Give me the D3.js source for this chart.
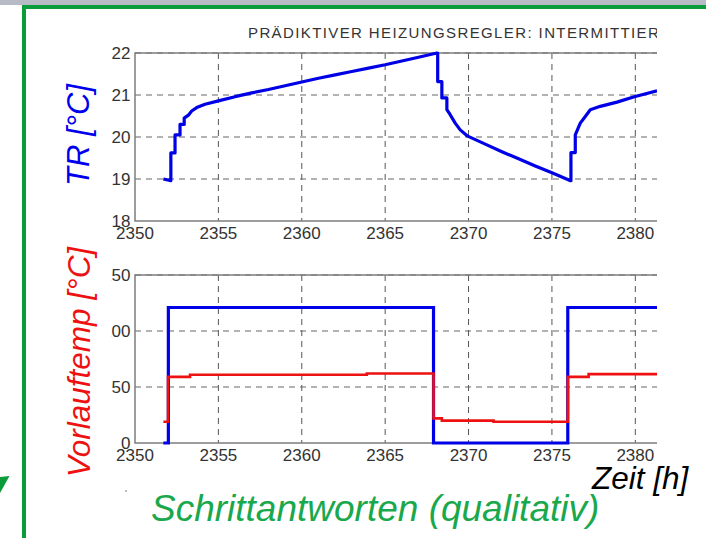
<!DOCTYPE html>
<html>
<head>
<meta charset="utf-8">
<script src="https://cdn.jsdelivr.net/npm/d3@7"></script>
<style>
  body { margin: 0; background: #fff; }
  svg { display: block; }
</style>
</head>
<body>
<svg id="chart"></svg>
<script>
// Raumtemperatur TR (oben), gelesen aus dem Bild
const trTime = [2351.7, 2352.15, 2352.15, 2352.4, 2352.4, 2352.7, 2352.7, 2352.95, 2352.95, 2353.2, 2353.4,
  2353.7, 2354.2, 2355, 2356, 2357, 2358, 2359, 2360, 2361, 2362, 2363, 2364, 2365, 2366, 2367, 2368.1,
  2368.15, 2368.15, 2368.4, 2368.4, 2368.7, 2368.7, 2368.9, 2369.2, 2369.5, 2369.95, 2371, 2372, 2373, 2374,
  2375, 2376.12, 2376.14, 2376.14, 2376.4, 2376.4, 2376.7, 2377.0, 2377.3, 2377.9, 2378.9, 2379.94, 2381.3];
const trValue = [19.0, 18.96, 19.62, 19.62, 20.05, 20.05, 20.3, 20.3, 20.45, 20.52, 20.62,
  20.7, 20.78, 20.86, 20.96, 21.05, 21.13, 21.22, 21.31, 21.4, 21.48, 21.56, 21.64, 21.72, 21.81, 21.9, 22.0,
  22.0, 21.32, 21.32, 20.93, 20.93, 20.65, 20.53, 20.33, 20.17, 20.02, 19.83, 19.65, 19.48, 19.31,
  19.15, 18.96, 18.96, 19.63, 19.63, 20.05, 20.33, 20.49, 20.65, 20.73, 20.83, 20.96, 21.1];

// Vorlauftemperatur (unten), Stufen
const setTime = [2351.7, 2352.0, 2367.9, 2375.95, 2381.3];
const setValue = [0, 121, 0, 121, 121];
const flowTime = [2351.7, 2351.98, 2353.3, 2363.9, 2367.9, 2368.4, 2371.5, 2375.95, 2377.2, 2381.3];
const flowValue = [19, 59, 61, 62, 22, 20, 19, 59, 61.5, 61.5];

const xTicks = [2350, 2355, 2360, 2365, 2370, 2375, 2380];
const trTicks = [18, 19, 20, 21, 22];
const flowTicks = [0, 50, 100, 150];

const title = "PRÄDIKTIVER HEIZUNGSREGLER: INTERMITTIERENDER BETRIEB";
const titleSeen = "PRÄDIKTIVER HEIZUNGSREGLER: INTERMITTIE";

const width = 706, height = 538;
const font = "'Liberation Sans', Arial, sans-serif";
const green = "#0a9b3b";

const svg = d3.select("#chart").attr("width", width).attr("height", height);

// grauer Streifen + grüner Rahmen
svg.append("rect").attr("x", 0).attr("y", 0).attr("width", width).attr("height", 5).attr("fill", "#b7bbc6");
svg.append("rect").attr("x", 22).attr("y", 5).attr("width", width - 22).attr("height", 4).attr("fill", green);
svg.append("rect").attr("x", 22).attr("y", 5).attr("width", 4).attr("height", height - 5).attr("fill", green);
svg.append("path").attr("d", "M0,477L9.5,476L0,493Z").attr("fill", green);

const x = d3.scaleLinear().domain([2350, 2381.3]).range([135, 657]);
const yTop = d3.scaleLinear().domain([18, 22]).range([221, 53]);
const yBot = d3.scaleLinear().domain([0, 150]).range([443, 275]);

svg.append("defs").append("clipPath").attr("id", "plotclip")
  .append("rect").attr("x", 130).attr("y", 0).attr("width", 527).attr("height", height);
svg.select("defs").append("clipPath").attr("id", "labclip")
  .append("rect").attr("x", 111.2).attr("y", 260).attr("width", 30).attr("height", 200);

function panel(y, yTicks, labelClip) {
  const g = svg.append("g");
  const [y0, y1] = y.range();
  // Gitter
  g.selectAll(".gx").data(xTicks.slice(1)).enter().append("line")
    .attr("x1", d => x(d)).attr("x2", d => x(d)).attr("y1", y1).attr("y2", y0)
    .attr("stroke", "#555").attr("stroke-width", 1).attr("stroke-dasharray", "6,5");
  g.selectAll(".gy").data(yTicks.slice(1)).enter().append("line")
    .attr("x1", x.range()[0]).attr("x2", x.range()[1]).attr("y1", d => y(d)).attr("y2", d => y(d))
    .attr("stroke", "#666").attr("stroke-width", 1).attr("stroke-dasharray", "6,5");
  // Rahmen (links, unten, oben)
  g.append("path")
    .attr("d", `M${x.range()[1]},${y1}H${x.range()[0]}V${y0}H${x.range()[1]}`)
    .attr("fill", "none").attr("stroke", "#7d7d7d").attr("stroke-width", 1.5);
  // Beschriftungen
  const yl = g.append("g");
  if (labelClip) yl.attr("clip-path", "url(#labclip)");
  yl.selectAll("text").data(yTicks).enter().append("text")
    .attr("x", 130.5).attr("y", d => y(d)).attr("dy", "0.36em")
    .attr("text-anchor", "end").attr("font-family", font).attr("font-size", 17).attr("fill", "#333")
    .text(d => d);
  g.selectAll(".xl").data(xTicks).enter().append("text")
    .attr("x", d => x(d)).attr("y", y0 + 12).attr("dy", "0.36em")
    .attr("text-anchor", "middle").attr("font-family", font).attr("font-size", 17).attr("fill", "#333")
    .text(d => d);
  return g;
}

panel(yTop, trTicks, false);
panel(yBot, flowTicks, true);

// Titel, rechts abgeschnitten; Sperrung so, dass der sichtbare Teil 248..648 füllt
const probe = svg.append("text").attr("font-family", font).attr("font-size", 15).text(titleSeen);
const seenW = probe.node().getComputedTextLength();
probe.remove();
const spacing = (400 - seenW) / titleSeen.length;
svg.append("text").attr("x", 248).attr("y", 37.5).attr("clip-path", "url(#plotclip)")
  .attr("font-family", font).attr("font-size", 15).attr("letter-spacing", spacing).attr("fill", "#333")
  .text(title);

const lines = svg.append("g").attr("clip-path", "url(#plotclip)");

lines.append("path")
  .datum(d3.zip(trTime, trValue))
  .attr("d", d3.line().x(d => x(d[0])).y(d => yTop(d[1])))
  .attr("fill", "none").attr("stroke", "#0000e6").attr("stroke-width", 3.2).attr("stroke-linejoin", "round");

lines.append("path")
  .datum(d3.zip(setTime, setValue))
  .attr("d", d3.line().curve(d3.curveStepAfter).x(d => x(d[0])).y(d => yBot(d[1])))
  .attr("fill", "none").attr("stroke", "#0000e6").attr("stroke-width", 3.2);

lines.append("path")
  .datum(d3.zip(flowTime, flowValue))
  .attr("d", d3.line().curve(d3.curveStepAfter).x(d => x(d[0])).y(d => yBot(d[1])))
  .attr("fill", "none").attr("stroke", "#ee1111").attr("stroke-width", 2.6);

// Achsentitel
svg.append("text").attr("transform", "translate(89,135) rotate(-90)")
  .attr("text-anchor", "middle").attr("font-family", font).attr("font-style", "italic")
  .attr("font-size", 31).attr("fill", "#0000ee").text("TR [°C]");
svg.append("text").attr("transform", "translate(90,362) rotate(-90)")
  .attr("text-anchor", "middle").attr("font-family", font).attr("font-style", "italic")
  .attr("font-size", 31.5).attr("fill", "#ee1111").text("Vorlauftemp [°C]");
svg.append("text").attr("x", 592).attr("y", 489)
  .attr("font-family", font).attr("font-style", "italic")
  .attr("font-size", 31.5).attr("fill", "#000").text("Zeit [h]");
svg.append("text").attr("x", 151).attr("y", 521)
  .attr("font-family", font).attr("font-style", "italic")
  .attr("font-size", 37).attr("fill", "#19a84c").text("Schrittantworten (qualitativ)");

svg.append("circle").attr("cx", 126).attr("cy", 491).attr("r", 1).attr("fill", "#aaa");
</script>
</body>
</html>
